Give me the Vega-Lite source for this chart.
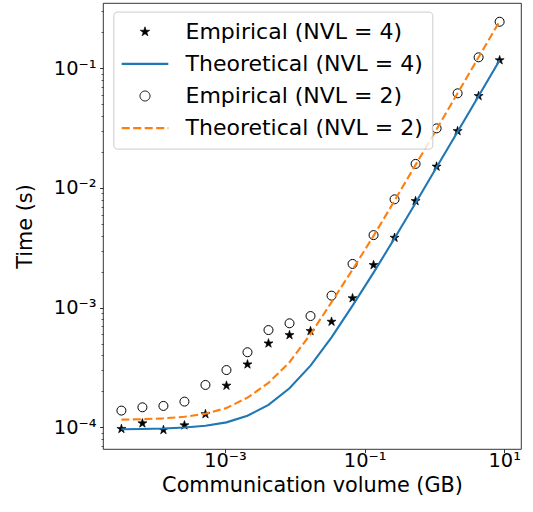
{
  "$schema": "https://vega.github.io/schema/vega-lite/v6.json",
  "autosize": {"type": "none"},
  "padding": {"left": 103, "top": 3, "right": 12, "bottom": 63},
  "width": 418,
  "height": 446,
  "config": {"view": {"stroke": "#000000", "strokeWidth": 0.8}, "font": "DejaVu Sans"},
  "data": {"values": [
    {"x": 3.2768e-5, "y": 9.7e-5, "s": "Empirical (NVL = 4)"},
    {"x": 6.5536e-5, "y": 1.08e-4, "s": "Empirical (NVL = 4)"},
    {"x": 1.31072e-4, "y": 9.5e-5, "s": "Empirical (NVL = 4)"},
    {"x": 2.62144e-4, "y": 1.04e-4, "s": "Empirical (NVL = 4)"},
    {"x": 5.24288e-4, "y": 1.29e-4, "s": "Empirical (NVL = 4)"},
    {"x": 1.048576e-3, "y": 2.23e-4, "s": "Empirical (NVL = 4)"},
    {"x": 2.097152e-3, "y": 3.36e-4, "s": "Empirical (NVL = 4)"},
    {"x": 4.194304e-3, "y": 5.03e-4, "s": "Empirical (NVL = 4)"},
    {"x": 8.388608e-3, "y": 5.9e-4, "s": "Empirical (NVL = 4)"},
    {"x": 1.6777216e-2, "y": 6.38e-4, "s": "Empirical (NVL = 4)"},
    {"x": 3.3554432e-2, "y": 7.63e-4, "s": "Empirical (NVL = 4)"},
    {"x": 6.7108864e-2, "y": 1.2e-3, "s": "Empirical (NVL = 4)"},
    {"x": 0.134217728, "y": 2.27e-3, "s": "Empirical (NVL = 4)"},
    {"x": 0.268435456, "y": 3.84e-3, "s": "Empirical (NVL = 4)"},
    {"x": 0.536870912, "y": 7.78e-3, "s": "Empirical (NVL = 4)"},
    {"x": 1.073741824, "y": 0.0151, "s": "Empirical (NVL = 4)"},
    {"x": 2.147483648, "y": 0.0299, "s": "Empirical (NVL = 4)"},
    {"x": 4.294967296, "y": 0.0587, "s": "Empirical (NVL = 4)"},
    {"x": 8.589934592, "y": 0.117, "s": "Empirical (NVL = 4)"},

    {"x": 3.2768e-5, "y": 9.64e-5, "s": "Theoretical (NVL = 4)"},
    {"x": 6.5536e-5, "y": 9.69e-5, "s": "Theoretical (NVL = 4)"},
    {"x": 1.31072e-4, "y": 9.78e-5, "s": "Theoretical (NVL = 4)"},
    {"x": 2.62144e-4, "y": 9.96e-5, "s": "Theoretical (NVL = 4)"},
    {"x": 5.24288e-4, "y": 1.03e-4, "s": "Theoretical (NVL = 4)"},
    {"x": 1.048576e-3, "y": 1.1e-4, "s": "Theoretical (NVL = 4)"},
    {"x": 2.097152e-3, "y": 1.25e-4, "s": "Theoretical (NVL = 4)"},
    {"x": 4.194304e-3, "y": 1.54e-4, "s": "Theoretical (NVL = 4)"},
    {"x": 8.388608e-3, "y": 2.12e-4, "s": "Theoretical (NVL = 4)"},
    {"x": 1.6777216e-2, "y": 3.28e-4, "s": "Theoretical (NVL = 4)"},
    {"x": 3.3554432e-2, "y": 5.65e-4, "s": "Theoretical (NVL = 4)"},
    {"x": 6.7108864e-2, "y": 1.04e-3, "s": "Theoretical (NVL = 4)"},
    {"x": 0.134217728, "y": 1.96e-3, "s": "Theoretical (NVL = 4)"},
    {"x": 0.268435456, "y": 3.8e-3, "s": "Theoretical (NVL = 4)"},
    {"x": 0.536870912, "y": 7.5e-3, "s": "Theoretical (NVL = 4)"},
    {"x": 1.073741824, "y": 0.0149, "s": "Theoretical (NVL = 4)"},
    {"x": 2.147483648, "y": 0.0295, "s": "Theoretical (NVL = 4)"},
    {"x": 4.294967296, "y": 0.0587, "s": "Theoretical (NVL = 4)"},
    {"x": 8.589934592, "y": 0.117, "s": "Theoretical (NVL = 4)"},

    {"x": 3.2768e-5, "y": 1.38e-4, "s": "Empirical (NVL = 2)"},
    {"x": 6.5536e-5, "y": 1.47e-4, "s": "Empirical (NVL = 2)"},
    {"x": 1.31072e-4, "y": 1.51e-4, "s": "Empirical (NVL = 2)"},
    {"x": 2.62144e-4, "y": 1.64e-4, "s": "Empirical (NVL = 2)"},
    {"x": 5.24288e-4, "y": 2.26e-4, "s": "Empirical (NVL = 2)"},
    {"x": 1.048576e-3, "y": 3.01e-4, "s": "Empirical (NVL = 2)"},
    {"x": 2.097152e-3, "y": 4.24e-4, "s": "Empirical (NVL = 2)"},
    {"x": 4.194304e-3, "y": 6.5e-4, "s": "Empirical (NVL = 2)"},
    {"x": 8.388608e-3, "y": 7.4e-4, "s": "Empirical (NVL = 2)"},
    {"x": 1.6777216e-2, "y": 8.51e-4, "s": "Empirical (NVL = 2)"},
    {"x": 3.3554432e-2, "y": 1.26e-3, "s": "Empirical (NVL = 2)"},
    {"x": 6.7108864e-2, "y": 2.32e-3, "s": "Empirical (NVL = 2)"},
    {"x": 0.134217728, "y": 4.04e-3, "s": "Empirical (NVL = 2)"},
    {"x": 0.268435456, "y": 8.04e-3, "s": "Empirical (NVL = 2)"},
    {"x": 0.536870912, "y": 0.0159, "s": "Empirical (NVL = 2)"},
    {"x": 1.073741824, "y": 0.0315, "s": "Empirical (NVL = 2)"},
    {"x": 2.147483648, "y": 0.0618, "s": "Empirical (NVL = 2)"},
    {"x": 4.294967296, "y": 0.1236, "s": "Empirical (NVL = 2)"},
    {"x": 8.589934592, "y": 0.245, "s": "Empirical (NVL = 2)"},

    {"x": 3.2768e-5, "y": 1.159e-4, "s": "Theoretical (NVL = 2)"},
    {"x": 6.5536e-5, "y": 1.169e-4, "s": "Theoretical (NVL = 2)"},
    {"x": 1.31072e-4, "y": 1.188e-4, "s": "Theoretical (NVL = 2)"},
    {"x": 2.62144e-4, "y": 1.225e-4, "s": "Theoretical (NVL = 2)"},
    {"x": 5.24288e-4, "y": 1.3e-4, "s": "Theoretical (NVL = 2)"},
    {"x": 1.048576e-3, "y": 1.45e-4, "s": "Theoretical (NVL = 2)"},
    {"x": 2.097152e-3, "y": 1.77e-4, "s": "Theoretical (NVL = 2)"},
    {"x": 4.194304e-3, "y": 2.35e-4, "s": "Theoretical (NVL = 2)"},
    {"x": 8.388608e-3, "y": 3.5e-4, "s": "Theoretical (NVL = 2)"},
    {"x": 1.6777216e-2, "y": 6.0e-4, "s": "Theoretical (NVL = 2)"},
    {"x": 3.3554432e-2, "y": 1.11e-3, "s": "Theoretical (NVL = 2)"},
    {"x": 6.7108864e-2, "y": 2.08e-3, "s": "Theoretical (NVL = 2)"},
    {"x": 0.134217728, "y": 3.98e-3, "s": "Theoretical (NVL = 2)"},
    {"x": 0.268435456, "y": 7.85e-3, "s": "Theoretical (NVL = 2)"},
    {"x": 0.536870912, "y": 0.0156, "s": "Theoretical (NVL = 2)"},
    {"x": 1.073741824, "y": 0.031, "s": "Theoretical (NVL = 2)"},
    {"x": 2.147483648, "y": 0.062, "s": "Theoretical (NVL = 2)"},
    {"x": 4.294967296, "y": 0.1238, "s": "Theoretical (NVL = 2)"},
    {"x": 8.589934592, "y": 0.2475, "s": "Theoretical (NVL = 2)"}
  ]},
  "encoding": {
    "x": {"field": "x", "type": "quantitative",
      "scale": {"type": "log", "domain": [1.786e-5, 17.38], "nice": false, "zero": false},
      "axis": {"values": [0.001, 0.1, 10],
        "labelExpr": "datum.value < 0.01 ? '10⁻³' : datum.value < 1 ? '10⁻¹' : '10¹'",
        "title": "Communication volume (GB)", "titleFont": "DejaVu Sans", "titleFontSize": 20.8, "titleFontWeight": "normal", "titleColor": "#000000",
        "titleY": 42.3, "titleBaseline": "alphabetic",
        "labelFont": "DejaVu Sans", "labelFontSize": 19.4, "labelColor": "#000000",
        "labelBaseline": "alphabetic", "labelPadding": 14.2, "labelFlush": false, "labelOverlap": false, "labelBound": false,
        "tickSize": 3.5, "tickWidth": 0.8, "tickColor": "#000000", "domain": false, "grid": false}}
  },
  "layer": [
    {
      "transform": [{"filter": "datum.s === 'Empirical (NVL = 4)'"}],
      "mark": {"type": "point", "filled": true, "size": 90, "opacity": 1},
      "encoding": {
        "y": {"field": "y", "type": "quantitative",
          "scale": {"type": "log", "domain": [6.59e-5, 0.3515], "nice": false, "zero": false},
          "axis": {"orient": "left", "values": [0.0001, 0.001, 0.01, 0.1],
            "labelExpr": "datum.value < 0.00015 ? '10⁻⁴' : datum.value < 0.0015 ? '10⁻³' : datum.value < 0.015 ? '10⁻²' : '10⁻¹'",
            "title": "Time (s)", "titleFont": "DejaVu Sans", "titleFontSize": 20.8, "titleFontWeight": "normal", "titleColor": "#000000",
            "titleX": -71.3, "titleBaseline": "alphabetic",
            "labelFont": "DejaVu Sans", "labelFontSize": 19.4, "labelColor": "#000000",
            "labelPadding": 3.5, "labelFlush": false, "labelOverlap": false, "labelBound": false,
            "tickSize": 3.5, "tickWidth": 0.8, "tickColor": "#000000", "domain": false, "grid": false}},
        "shape": {"field": "s", "type": "nominal",
          "scale": {"domain": ["Empirical (NVL = 4)", "Theoretical (NVL = 4)", "Empirical (NVL = 2)", "Theoretical (NVL = 2)"],
            "range": ["M0,-1L0.2245,-0.309L0.951,-0.309L0.363,0.118L0.588,0.809L0,0.382L-0.588,0.809L-0.363,0.118L-0.951,-0.309L-0.2245,-0.309Z", "M-4.66,0H4.66", "circle", "M-4.66,0H4.66"]},
          "legend": {"title": null, "orient": "none", "legendX": 10.3, "legendY": 8.6, "direction": "vertical",
            "padding": 9.2, "fillColor": "rgba(255,255,255,0.8)", "strokeColor": "#cccccc", "cornerRadius": 3.5,
            "labelFont": "DejaVu Sans", "labelFontSize": 22, "labelColor": "#000000", "labelOffset": 29.5, "labelLimit": 0,
            "symbolOffset": 11.5, "rowPadding": 10.1, "symbolSize": 100, "symbolOpacity": 1}},
        "fill": {"field": "s", "type": "nominal",
          "scale": {"domain": ["Empirical (NVL = 4)", "Theoretical (NVL = 4)", "Empirical (NVL = 2)", "Theoretical (NVL = 2)"],
            "range": ["#000000", "transparent", "transparent", "transparent"]},
          "legend": {"title": null}},
        "stroke": {"field": "s", "type": "nominal",
          "scale": {"domain": ["Empirical (NVL = 4)", "Theoretical (NVL = 4)", "Empirical (NVL = 2)", "Theoretical (NVL = 2)"],
            "range": ["#000000", "#1f77b4", "#000000", "#ff7f0e"]},
          "legend": {"title": null}},
        "strokeDash": {"field": "s", "type": "nominal",
          "scale": {"domain": ["Empirical (NVL = 4)", "Theoretical (NVL = 4)", "Empirical (NVL = 2)", "Theoretical (NVL = 2)"],
            "range": [[1, 0], [1, 0], [1, 0], [8, 3.5]]},
          "legend": {"title": null}},
        "strokeWidth": {"field": "s", "type": "ordinal",
          "scale": {"type": "ordinal", "domain": ["Empirical (NVL = 4)", "Theoretical (NVL = 4)", "Empirical (NVL = 2)", "Theoretical (NVL = 2)"],
            "range": [0.7, 2.1, 1, 2.1]},
          "legend": {"title": null}}
      }
    },
    {
      "transform": [{"filter": "datum.s === 'Theoretical (NVL = 4)'"}],
      "mark": {"type": "line", "strokeWidth": 2.1, "color": "#1f77b4"},
      "encoding": {
        "y": {"field": "y", "type": "quantitative", "scale": {"type": "log", "domain": [6.59e-5, 0.3515], "nice": false, "zero": false},
          "axis": {"orient": "left", "values": [0.00007, 0.00008, 0.00009, 0.0002, 0.0003, 0.0004, 0.0005, 0.0006, 0.0007, 0.0008, 0.0009, 0.002, 0.003, 0.004, 0.005, 0.006, 0.007, 0.008, 0.009, 0.02, 0.03, 0.04, 0.05, 0.06, 0.07, 0.08, 0.09, 0.2, 0.3],
            "labels": false, "title": null, "tickSize": 2, "tickWidth": 0.6, "tickColor": "#000000", "domain": false, "grid": false}}
      }
    },
    {
      "transform": [{"filter": "datum.s === 'Empirical (NVL = 2)'"}],
      "mark": {"type": "point", "shape": "circle", "filled": false, "size": 81, "opacity": 1, "strokeWidth": 1, "color": "#000000"},
      "encoding": {
        "y": {"field": "y", "type": "quantitative", "scale": {"type": "log", "domain": [6.59e-5, 0.3515], "nice": false, "zero": false}, "axis": null}
      }
    },
    {
      "transform": [{"filter": "datum.s === 'Theoretical (NVL = 2)'"}],
      "mark": {"type": "line", "strokeWidth": 2.1, "strokeDash": [8, 3.5], "color": "#ff7f0e"},
      "encoding": {
        "y": {"field": "y", "type": "quantitative", "scale": {"type": "log", "domain": [6.59e-5, 0.3515], "nice": false, "zero": false}, "axis": null}
      }
    }
  ],
  "resolve": {"axis": {"y": "independent"}}
}
